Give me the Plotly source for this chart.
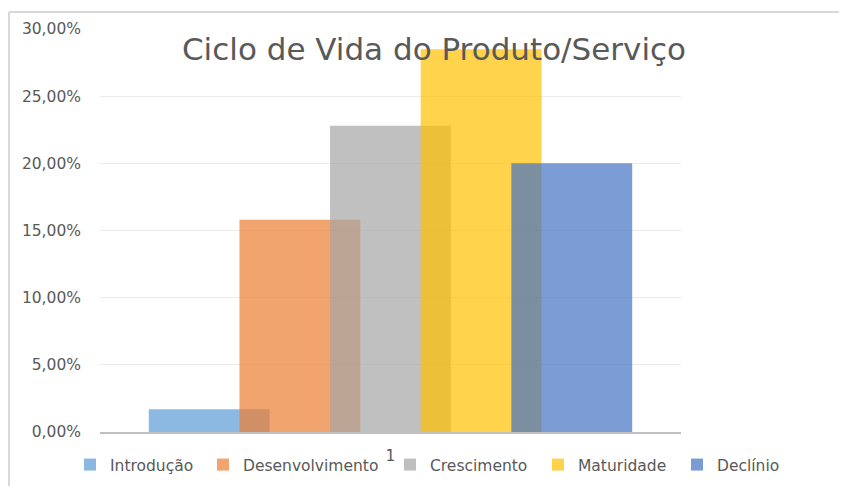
import plotly.graph_objects as go

categories = ["1"]
series_names = ["Introdução", "Desenvolvimento", "Crescimento", "Maturidade", "Declínio"]
series_values = [0.0170, 0.1580, 0.2280, 0.2850, 0.2000]
series_colors = ["#5B9BD5", "#ED7D31", "#A5A5A5", "#FFC000", "#4472C4"]
y_ticks = [0, 0.05, 0.10, 0.15, 0.20, 0.25, 0.30]

# screen size and page offset (body margin)
SW, SH = 847, 486
OFF = 8
W, H = SW - OFF, SH - OFF

# plot area in screen pixels
PX0, PX1, PY0, PY1 = 100, 681, 29, 432
L = PX0 - OFF
R = W - (PX1 - OFF)
T = PY0 - OFF
B = H - (PY1 - OFF)
pw = PX1 - PX0
ph = PY1 - PY0


def sx(x):
    return (x - PX0) / pw


def sy(y):
    return (PY1 - y) / ph


# legend entry text start positions (screen px), one legend box per series
legend_text_x = [110, 243, 430, 578, 717]
legend_y = 465

bar_width = 0.208
step = 0.156
n = len(series_names)

font_family = "DejaVu Sans, Verdana, sans-serif"

fig = go.Figure()
legend_layouts = {}
for i, (name, val, col) in enumerate(zip(series_names, series_values, series_colors)):
    center = (i - (n - 1) / 2) * step
    lname = "legend" if i == 0 else f"legend{i + 1}"
    fig.add_trace(go.Bar(
        x=categories, y=[val], name=name,
        marker=dict(color=col, line=dict(width=0)),
        opacity=0.7,
        width=bar_width, offset=center - bar_width / 2,
        legend=lname,
    ))
    legend_layouts[lname] = dict(
        orientation="h", xref="container", yref="container",
        x=(legend_text_x[i] - 40 - OFF) / W, xanchor="left",
        y=1 - (legend_y - OFF) / H, yanchor="middle",
        font=dict(size=15.5, color="#595959", family=font_family),
        bgcolor="rgba(0,0,0,0)", itemclick=False, itemdoubleclick=False,
    )

fig.update_layout(
    width=W, height=H,
    margin=dict(l=L, r=R, t=T, b=B, autoexpand=False),
    paper_bgcolor="white", plot_bgcolor="white",
    barmode="overlay",
    separators=",.",
    font=dict(family=font_family, color="#595959", size=15.5),
    title=dict(text="Ciclo de Vida do Produto/Serviço",
               x=(434 - OFF) / W, xref="container", xanchor="center",
               y=1 - (49 - OFF) / H, yref="container", yanchor="middle",
               font=dict(size=31, color="#595959", family=font_family)),
    xaxis=dict(range=[-0.5, 0.5], showgrid=False, showline=True,
               linecolor="#bfbfbf", linewidth=2, ticks="",
               ticklabelstandoff=8, tickfont=dict(size=15.5, color="#595959"),
               fixedrange=True),
    yaxis=dict(range=[0, 0.30], tickvals=y_ticks, tickformat=".2%",
               showgrid=True, gridcolor="#ececec", gridwidth=1,
               zeroline=False, showline=False, ticks="",
               ticklabelstandoff=18, tickfont=dict(size=15.5, color="#595959")),
    showlegend=True,
    shapes=[
        dict(type="line", xref="paper", yref="paper",
             x0=sx(9), x1=sx(SW + 10), y0=sy(12), y1=sy(12),
             line=dict(color="#d9d9d9", width=2)),
        dict(type="line", xref="paper", yref="paper",
             x0=sx(9), x1=sx(9), y0=sy(12), y1=sy(SH + 10),
             line=dict(color="#d9d9d9", width=2)),
    ],
    **legend_layouts,
)

fig.write_html("out.html")
